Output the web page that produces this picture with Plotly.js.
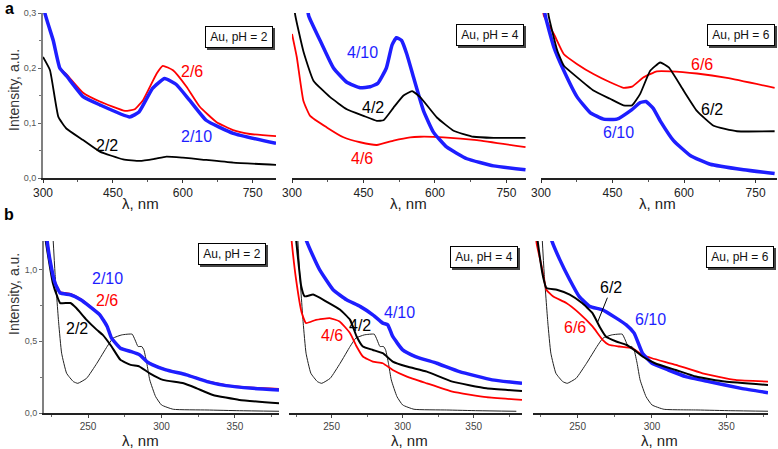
<!DOCTYPE html>
<html>
<head>
<meta charset="utf-8">
<script src="https://cdn.plot.ly/plotly-3.0.1.min.js"></script>
<style>
  html, body { margin: 0; padding: 0; background: #fff; }
  #chart { width: 778px; height: 449px; }
</style>
</head>
<body>
<div id="chart"></div>
<script>
// ---- (a) visible range, 300-800 nm ----
// pH = 2
const a_pH2_22_x = [300, 315, 333, 350, 386, 422, 472, 508, 540, 565, 600, 636, 708, 800];
const a_pH2_22_y = [0.22, 0.196, 0.111, 0.09, 0.069, 0.048, 0.034, 0.031, 0.035, 0.039, 0.037, 0.034, 0.028, 0.024];
const a_pH2_26_x = [300, 304, 322, 336, 351, 386, 422, 476, 497, 515, 544, 557, 579, 608, 636, 672, 708, 744, 800];
const a_pH2_26_y = [0.34, 0.3, 0.25, 0.2, 0.188, 0.155, 0.139, 0.122, 0.125, 0.142, 0.19, 0.204, 0.196, 0.166, 0.13, 0.102, 0.087, 0.08, 0.076];
const a_pH2_210_x = [300, 304, 322, 336, 351, 386, 422, 486, 506, 535, 561, 586, 614, 650, 708, 800];
const a_pH2_210_y = [0.34, 0.3, 0.25, 0.2, 0.185, 0.148, 0.133, 0.111, 0.12, 0.163, 0.181, 0.17, 0.142, 0.105, 0.081, 0.063];
// pH = 4
const a_pH4_42_x = [300, 307, 324, 345, 380, 415, 450, 478, 492, 513, 534, 552, 569, 604, 639, 681, 723, 790];
const a_pH4_42_y = [0.34, 0.295, 0.23, 0.177, 0.147, 0.125, 0.113, 0.104, 0.105, 0.128, 0.15, 0.158, 0.147, 0.11, 0.086, 0.075, 0.073, 0.073];
const a_pH4_46_x = [300, 310, 324, 338, 373, 408, 443, 478, 513, 548, 569, 618, 688, 790];
const a_pH4_46_y = [0.262, 0.22, 0.14, 0.113, 0.092, 0.074, 0.065, 0.06, 0.068, 0.074, 0.075, 0.074, 0.069, 0.056];
const a_pH4_410_x = [328, 335, 359, 387, 415, 443, 464, 480, 498, 510, 519, 530, 541, 555, 576, 597, 625, 667, 723, 790];
const a_pH4_410_y = [0.34, 0.295, 0.25, 0.2, 0.174, 0.164, 0.166, 0.172, 0.2, 0.242, 0.255, 0.25, 0.225, 0.183, 0.122, 0.083, 0.056, 0.035, 0.022, 0.015];
// pH = 6
const a_pH6_62_x = [310, 316, 334, 348, 376, 410, 445, 473, 491, 508, 529, 550, 568, 599, 627, 662, 711, 790];
const a_pH6_62_y = [0.34, 0.295, 0.232, 0.204, 0.183, 0.159, 0.144, 0.132, 0.132, 0.153, 0.195, 0.21, 0.201, 0.159, 0.122, 0.095, 0.085, 0.085];
const a_pH6_66_x = [300, 306, 327, 348, 376, 410, 445, 473, 491, 515, 543, 571, 627, 690, 790];
const a_pH6_66_y = [0.34, 0.295, 0.262, 0.225, 0.207, 0.189, 0.174, 0.164, 0.166, 0.183, 0.194, 0.194, 0.19, 0.182, 0.164];
const a_pH6_610_x = [303, 309, 327, 348, 376, 403, 431, 459, 490, 508, 520, 535, 550, 578, 613, 655, 725, 790];
const a_pH6_610_y = [0.34, 0.295, 0.238, 0.195, 0.147, 0.119, 0.107, 0.107, 0.124, 0.137, 0.139, 0.127, 0.104, 0.068, 0.041, 0.025, 0.015, 0.008];

// ---- (b) UV range, 220-380 nm ----
// thin reference curve, same in all three panels
const b_ref_x = [226, 227.5, 230, 232, 235.4, 240, 243, 249, 256, 263, 267, 273, 280, 282, 284, 286.5, 288, 290, 292, 296, 300, 308, 331, 353, 380];
const b_ref_y = [1.25, 0.977, 0.627, 0.417, 0.277, 0.219, 0.207, 0.242, 0.347, 0.464, 0.522, 0.545, 0.55, 0.51, 0.464, 0.464, 0.44, 0.347, 0.231, 0.114, 0.056, 0.026, 0.021, 0.016, 0.012];
// pH = 2
const b_pH2_22_x = [221, 226, 229, 231, 238, 242, 249, 256, 260, 266, 272, 279, 285, 292, 301, 315, 324, 335, 353, 380];
const b_pH2_22_y = [1.21, 0.907, 0.813, 0.767, 0.767, 0.732, 0.65, 0.58, 0.545, 0.464, 0.371, 0.336, 0.324, 0.277, 0.231, 0.207, 0.172, 0.126, 0.091, 0.068];
const b_pH2_26_x = [221, 222, 224, 227.5, 231, 238, 245, 251, 258, 263, 266, 272, 279, 285, 290, 294, 303, 317, 331, 344, 362, 380];
const b_pH2_26_y = [1.3, 1.22, 1.08, 0.915, 0.845, 0.832, 0.795, 0.748, 0.688, 0.606, 0.524, 0.454, 0.431, 0.408, 0.361, 0.338, 0.303, 0.268, 0.222, 0.195, 0.177, 0.168];
const b_pH2_210_x = [221, 222, 224, 227.5, 231, 238, 245, 251, 258, 263, 266, 272, 279, 285, 290, 294, 303, 317, 331, 344, 362, 380];
const b_pH2_210_y = [1.3, 1.21, 1.07, 0.907, 0.837, 0.825, 0.79, 0.744, 0.685, 0.604, 0.522, 0.452, 0.429, 0.406, 0.359, 0.336, 0.301, 0.266, 0.219, 0.191, 0.172, 0.161];
// pH = 4
const b_pH4_42_x = [224, 225, 228.6, 231, 237, 246, 256, 263, 267.6, 272, 279, 286, 293, 303, 317, 335, 359, 384];
const b_pH4_42_y = [1.3, 1.21, 0.884, 0.814, 0.826, 0.779, 0.72, 0.65, 0.534, 0.464, 0.44, 0.417, 0.359, 0.324, 0.289, 0.219, 0.172, 0.153];
const b_pH4_46_x = [221, 222, 225, 229, 232, 239, 248.6, 255.6, 263, 267.6, 272, 279, 286, 293, 303, 317, 335, 359, 384];
const b_pH4_46_y = [1.3, 1.186, 0.93, 0.697, 0.627, 0.65, 0.662, 0.639, 0.557, 0.464, 0.394, 0.359, 0.347, 0.3, 0.254, 0.207, 0.149, 0.11, 0.091];
const b_pH4_410_x = [230, 232, 237, 241.5, 251, 260.5, 270, 279, 286, 289.5, 293, 300, 309, 324, 340, 363, 384];
const b_pH4_410_y = [1.3, 1.21, 1.093, 1.0, 0.86, 0.79, 0.744, 0.685, 0.627, 0.615, 0.534, 0.44, 0.394, 0.347, 0.289, 0.231, 0.207];
// pH = 6
const b_pH6_62_x = [222, 223, 226.7, 229, 236, 244.7, 253, 260, 264.7, 269, 276, 282.7, 288, 293.6, 302, 316, 329.6, 349, 378];
const b_pH6_62_y = [1.3, 1.21, 0.954, 0.872, 0.86, 0.826, 0.767, 0.697, 0.604, 0.534, 0.499, 0.476, 0.44, 0.394, 0.347, 0.3, 0.254, 0.219, 0.196];
const b_pH6_66_x = [221.5, 222.4, 225.8, 229, 233.4, 242.4, 251, 260, 266.8, 271, 278, 286.7, 293.6, 300, 316, 334, 356, 378];
const b_pH6_66_y = [1.3, 1.186, 1.023, 0.86, 0.814, 0.767, 0.697, 0.604, 0.511, 0.476, 0.464, 0.452, 0.406, 0.382, 0.336, 0.277, 0.231, 0.219];
const b_pH6_610_x = [231, 232.4, 238, 244.7, 251, 258, 266.8, 276, 282.7, 288, 293.6, 300, 311, 322.7, 338, 360, 378];
const b_pH6_610_y = [1.3, 1.21, 1.07, 0.93, 0.814, 0.744, 0.72, 0.662, 0.615, 0.557, 0.417, 0.347, 0.3, 0.254, 0.219, 0.172, 0.142];

const RED = '#ff0000', BLUE = '#1e1eff', BLACK = '#000000';
const W = 778, H = 449;
const FONT = 'Liberation Sans, Arial, sans-serif';

function xd(left, right) { return [left / W, right / W]; }
function yd(top, bottom) { return [1 - bottom / H, 1 - top / H]; }

function spectrum(x, y, color, width, n, name) {
    return {
        x: x, y: y,
        type: 'scatter', mode: 'lines',
        name: name,
        line: {color: color, width: width, shape: 'spline', smoothing: 0.4},
        xaxis: n === 1 ? 'x' : 'x' + n,
        yaxis: n === 1 ? 'y' : 'y' + n,
        hoverinfo: 'skip'
    };
}

const traces = [
    spectrum(a_pH2_26_x, a_pH2_26_y, RED, 1.8, 1, '2/6'),
    spectrum(a_pH2_22_x, a_pH2_22_y, BLACK, 1.8, 1, '2/2'),
    spectrum(a_pH2_210_x, a_pH2_210_y, BLUE, 3.5, 1, '2/10'),
    spectrum(a_pH4_46_x, a_pH4_46_y, RED, 1.8, 2, '4/6'),
    spectrum(a_pH4_410_x, a_pH4_410_y, BLUE, 3.5, 2, '4/10'),
    spectrum(a_pH4_42_x, a_pH4_42_y, BLACK, 1.8, 2, '4/2'),
    spectrum(a_pH6_66_x, a_pH6_66_y, RED, 1.8, 3, '6/6'),
    spectrum(a_pH6_610_x, a_pH6_610_y, BLUE, 3.5, 3, '6/10'),
    spectrum(a_pH6_62_x, a_pH6_62_y, BLACK, 1.8, 3, '6/2'),

    spectrum(b_ref_x, b_ref_y, '#222', 1, 4, 'ref'),
    spectrum(b_pH2_22_x, b_pH2_22_y, BLACK, 2, 4, '2/2'),
    spectrum(b_pH2_26_x, b_pH2_26_y, RED, 1.8, 4, '2/6'),
    spectrum(b_pH2_210_x, b_pH2_210_y, BLUE, 3.5, 4, '2/10'),
    spectrum(b_ref_x, b_ref_y, '#222', 1, 5, 'ref'),
    spectrum(b_pH4_46_x, b_pH4_46_y, RED, 1.8, 5, '4/6'),
    spectrum(b_pH4_410_x, b_pH4_410_y, BLUE, 3.5, 5, '4/10'),
    spectrum(b_pH4_42_x, b_pH4_42_y, BLACK, 2, 5, '4/2'),
    spectrum(b_ref_x, b_ref_y, '#222', 1, 6, 'ref'),
    spectrum(b_pH6_66_x, b_pH6_66_y, RED, 1.8, 6, '6/6'),
    spectrum(b_pH6_610_x, b_pH6_610_y, BLUE, 3.5, 6, '6/10'),
    spectrum(b_pH6_62_x, b_pH6_62_y, BLACK, 2, 6, '6/2')
];

function topX(dom, anchor, range) {
    return {
        domain: dom, anchor: anchor, range: range,
        tick0: 300, dtick: 150, ticks: 'outside', ticklen: 3, tickcolor: '#333',
        minor: {dtick: 75, ticks: 'outside', ticklen: 2, tickcolor: '#555'},
        showline: true, linecolor: '#222', linewidth: 1.5,
        showgrid: false, zeroline: false,
        tickfont: {size: 12, color: '#222'}
    };
}
function botX(dom, anchor, range) {
    return {
        domain: dom, anchor: anchor, range: range,
        tick0: 250, dtick: 50, ticks: 'outside', ticklen: 3, tickcolor: '#444',
        minor: {dtick: 25, ticks: 'outside', ticklen: 2, tickcolor: '#666'},
        showline: true, linecolor: '#222', linewidth: 1.5,
        showgrid: false, zeroline: false,
        tickfont: {size: 10, color: '#444'}
    };
}
function hiddenY(dom, anchor, range) {
    return {domain: dom, anchor: anchor, range: range, visible: false};
}

const TOP = yd(13, 178), BOT = yd(241, 413);

function label(text, x, y, color, n) {
    return {
        text: text, x: x, y: y,
        xref: n === 1 ? 'x' : 'x' + n, yref: n === 1 ? 'y' : 'y' + n,
        xanchor: 'center', yanchor: 'middle',
        showarrow: false, font: {size: 16, color: color}
    };
}
function paperText(text, px, py, font, extra) {
    return Object.assign({
        text: text, xref: 'paper', yref: 'paper', x: px / W, y: 1 - py / H,
        xanchor: 'center', yanchor: 'middle', showarrow: false, font: font
    }, extra || {});
}

const annotations = [
    label('2/6', 620, 0.193, RED, 1),
    label('2/10', 630, 0.076, BLUE, 1),
    label('2/2', 437, 0.06, BLACK, 1),
    label('4/10', 447, 0.229, BLUE, 2),
    label('4/2', 470, 0.129, BLACK, 2),
    label('4/6', 447, 0.036, RED, 2),
    label('6/6', 638, 0.207, RED, 3),
    label('6/2', 659, 0.124, BLACK, 3),
    label('6/10', 462, 0.082, BLUE, 3),
    label('2/10', 263.5, 0.937, BLUE, 4),
    label('2/6', 263, 0.783, RED, 4),
    label('2/2', 242.4, 0.587, BLACK, 4),
    label('4/10', 298, 0.70, BLUE, 5),
    label('4/2', 270, 0.608, BLACK, 5),
    label('4/6', 250, 0.538, RED, 5),
    label('6/6', 248, 0.594, RED, 6),
    label('6/10', 299, 0.65, BLUE, 6),
    {text: '6/2', x: 263.3, y: 0.63, xref: 'x6', yref: 'y6', showarrow: true,
     arrowhead: 0, arrowwidth: 1, arrowcolor: BLACK, ax: 14, ay: -35,
     font: {size: 16, color: BLACK}}
];

// boxed "Au, pH = n" tags; the drop shadow is a grey rect behind each box
const tags = [['Au, pH = 2', 239, 37], ['Au, pH = 4', 490, 35], ['Au, pH = 6', 741, 35],
              ['Au, pH = 2', 232, 254], ['Au, pH = 4', 484, 257], ['Au, pH = 6', 740, 257]];
const shapes = [];
tags.forEach(t => {
    const cx = t[1], cy = t[2];
    shapes.push({type: 'rect', xref: 'paper', yref: 'paper', layer: 'above',
                 x0: (cx - 32) / W, x1: (cx + 36) / W, y0: 1 - (cy + 13) / H, y1: 1 - (cy - 9) / H,
                 fillcolor: '#444', line: {width: 0}});
    annotations.push(paperText(t[0], cx, cy, {size: 12, color: '#111'},
        {width: 60, height: 14, borderpad: 3, borderwidth: 1, bgcolor: '#fff', bordercolor: '#000'}));
});

// axis titles and panel letters
[[140, 204], [408, 204], [657, 204], [140, 440], [409, 440], [659, 440]].forEach(p => {
    annotations.push(paperText('λ, nm', p[0], p[1], {size: 15, color: '#222'}));
});
[[14, 90], [14, 294]].forEach(p => {
    annotations.push(paperText('Intensity, a.u.', p[0], p[1], {size: 14, color: '#333'}, {textangle: -90}));
});
annotations.push(paperText('<b>a</b>', 9, 8, {size: 16, color: '#000'}));
annotations.push(paperText('<b>b</b>', 9, 215, {size: 16, color: '#000'}));

const layout = {
    width: W, height: H,
    margin: {l: 0, r: 0, t: 0, b: 0},
    paper_bgcolor: '#fff', plot_bgcolor: '#fff',
    font: {family: FONT},
    separators: ',.',
    showlegend: false,

    xaxis: topX(xd(43, 276), 'y', [300, 800]),
    xaxis2: topX(xd(292, 526), 'y2', [300, 791]),
    xaxis3: topX(xd(541, 777), 'y3', [300, 795]),
    yaxis: {
        domain: TOP, anchor: 'x', range: [0, 0.3], dtick: 0.1, tickformat: '.1f',
        ticks: 'outside', ticklen: 3, tickcolor: '#666',
        minor: {dtick: 0.05, ticks: 'outside', ticklen: 2, tickcolor: '#777'},
        showline: true, linecolor: '#808080', linewidth: 2,
        showgrid: false, zeroline: false,
        tickfont: {size: 9, color: '#555'}
    },
    yaxis2: hiddenY(TOP, 'x2', [0, 0.3]),
    yaxis3: hiddenY(TOP, 'x3', [0, 0.3]),

    xaxis4: botX(xd(44, 279), 'y4', [220, 380]),
    xaxis5: botX(xd(289, 522), 'y5', [220, 384]),
    xaxis6: botX(xd(533, 768), 'y6', [220, 378]),
    yaxis4: {
        domain: BOT, anchor: 'x4', range: [0, 1.2], dtick: 0.5, tickformat: '.1f',
        ticks: 'outside', ticklen: 3, tickcolor: '#666',
        minor: {dtick: 0.25, ticks: 'outside', ticklen: 2, tickcolor: '#777'},
        showline: true, linecolor: '#808080', linewidth: 2,
        showgrid: false, zeroline: false,
        tickfont: {size: 9, color: '#555'}
    },
    yaxis5: hiddenY(BOT, 'x5', [0, 1.2]),
    yaxis6: hiddenY(BOT, 'x6', [0, 1.2]),

    shapes: shapes,
    annotations: annotations
};

Plotly.newPlot('chart', traces, layout, {displayModeBar: false, staticPlot: true});
</script>
</body>
</html>
